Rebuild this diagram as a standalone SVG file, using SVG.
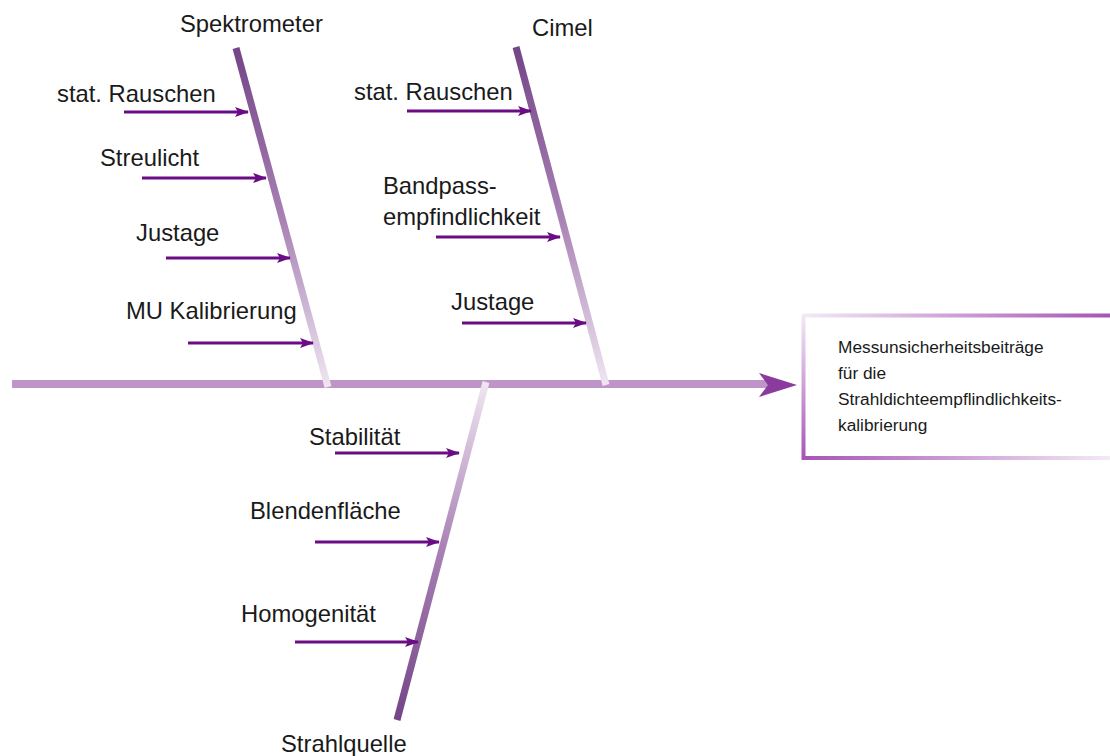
<svg xmlns="http://www.w3.org/2000/svg" width="1110" height="756" viewBox="0 0 1110 756">
  <style>
    text { font-family: "Liberation Sans", Arial, sans-serif; fill: #1a1a1a; }
    .lbl { font-size: 23.8px; }
    .box { font-size: 17.3px; }
    .cause { stroke: #6a0c84; stroke-width: 3.2; fill: none; marker-end: url(#tip); }
    .bone { stroke-width: 7; fill: none; stroke-linecap: butt; }
  </style>
  <defs>
    <marker id="tip" viewBox="0 0 14 10" refX="13" refY="5" markerWidth="14" markerHeight="10" markerUnits="userSpaceOnUse" orient="auto">
      <path d="M0,0 L14,5 L0,10 L3,5 Z" fill="#6a0c84"/>
    </marker>
    <linearGradient id="gSpek" gradientUnits="userSpaceOnUse" x1="236" y1="48" x2="328" y2="387">
      <stop offset="0" stop-color="#744587"/>
      <stop offset="0.5" stop-color="#a880b4"/>
      <stop offset="1" stop-color="#efe6f1"/>
    </linearGradient>
    <linearGradient id="gCimel" gradientUnits="userSpaceOnUse" x1="516" y1="47" x2="606" y2="385">
      <stop offset="0" stop-color="#744587"/>
      <stop offset="0.5" stop-color="#a880b4"/>
      <stop offset="1" stop-color="#efe6f1"/>
    </linearGradient>
    <linearGradient id="gQuelle" gradientUnits="userSpaceOnUse" x1="486" y1="382" x2="397" y2="720">
      <stop offset="0" stop-color="#efe6f1"/>
      <stop offset="0.5" stop-color="#a880b4"/>
      <stop offset="1" stop-color="#744587"/>
    </linearGradient>
    <linearGradient id="gTop" gradientUnits="userSpaceOnUse" x1="802" y1="0" x2="1110" y2="0">
      <stop offset="0" stop-color="#f3eaf5"/>
      <stop offset="1" stop-color="#a654b6"/>
    </linearGradient>
    <linearGradient id="gLeft" gradientUnits="userSpaceOnUse" x1="0" y1="314" x2="0" y2="460">
      <stop offset="0" stop-color="#f3eaf5"/>
      <stop offset="1" stop-color="#a654b6"/>
    </linearGradient>
    <linearGradient id="gBottom" gradientUnits="userSpaceOnUse" x1="802" y1="0" x2="1110" y2="0">
      <stop offset="0" stop-color="#a654b6"/>
      <stop offset="1" stop-color="#f3eaf5"/>
    </linearGradient>
  </defs>

  <!-- effect box -->
  <g id="effect">
    <rect x="804" y="316" width="310" height="141" fill="#ffffff"/>
    <line x1="802" y1="315.5" x2="1110" y2="315.5" stroke="url(#gTop)" stroke-width="4"/>
    <line x1="803.5" y1="314" x2="803.5" y2="460" stroke="url(#gLeft)" stroke-width="4"/>
    <line x1="802" y1="458" x2="1110" y2="458" stroke="url(#gBottom)" stroke-width="4"/>
    <text class="box" x="838" y="353">Messunsicherheitsbeiträge</text>
    <text class="box" x="838" y="379">für die</text>
    <text class="box" x="838" y="405">Strahldichteempflindlichkeits-</text>
    <text class="box" x="838" y="431">kalibrierung</text>
  </g>

  <!-- spine and category bones -->
  <g id="connectors">
    <line x1="12" y1="384" x2="768" y2="384" stroke="#bf94c9" stroke-width="8"/>
    <path d="M759,373 L797,385 L759,397 L768,385 Z" fill="#8b3a9e"/>
    <line class="bone" x1="236" y1="48" x2="328" y2="387" stroke="url(#gSpek)"/>
    <line class="bone" x1="516" y1="47" x2="606" y2="385" stroke="url(#gCimel)"/>
    <line class="bone" x1="486" y1="382" x2="397" y2="720" stroke="url(#gQuelle)"/>

    <line class="cause" x1="124" y1="112" x2="248" y2="112"/>
    <line class="cause" x1="142" y1="178" x2="266" y2="178"/>
    <line class="cause" x1="166" y1="258" x2="290" y2="258"/>
    <line class="cause" x1="188" y1="343" x2="313" y2="343"/>

    <line class="cause" x1="407" y1="111" x2="531" y2="111"/>
    <line class="cause" x1="436" y1="237" x2="560" y2="237"/>
    <line class="cause" x1="462" y1="323" x2="586" y2="323"/>

    <line class="cause" x1="335" y1="453" x2="459" y2="453"/>
    <line class="cause" x1="315" y1="542" x2="439" y2="542"/>
    <line class="cause" x1="295" y1="642" x2="418" y2="642"/>
  </g>

  <!-- Spektrometer -->
  <g id="spektrometer">
    <text class="lbl" x="180" y="32">Spektrometer</text>
    <text class="lbl" x="57" y="102">stat. Rauschen</text>
    <text class="lbl" x="100" y="166">Streulicht</text>
    <text class="lbl" x="136" y="241">Justage</text>
    <text class="lbl" x="126" y="319">MU Kalibrierung</text>
  </g>

  <!-- Cimel -->
  <g id="cimel">
    <text class="lbl" x="532" y="36">Cimel</text>
    <text class="lbl" x="354" y="100">stat. Rauschen</text>
    <text class="lbl" x="383" y="194">Bandpass-</text>
    <text class="lbl" x="383" y="225">empfindlichkeit</text>
    <text class="lbl" x="451" y="310">Justage</text>
  </g>

  <!-- Strahlquelle -->
  <g id="strahlquelle">
    <text class="lbl" x="309" y="445">Stabilität</text>
    <text class="lbl" x="250" y="519">Blendenfläche</text>
    <text class="lbl" x="241" y="622">Homogenität</text>
    <text class="lbl" x="281" y="752">Strahlquelle</text>
  </g>
</svg>
